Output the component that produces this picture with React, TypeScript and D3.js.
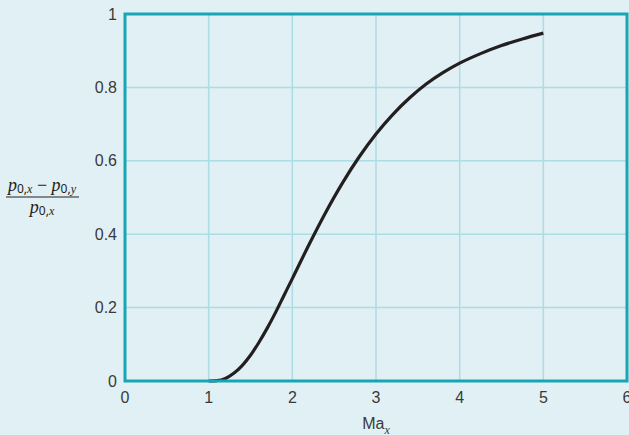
import React from "react";
import * as d3 from "d3";

const machNumbers = [1.0, 1.1, 1.2, 1.3, 1.4, 1.5, 1.6, 1.7, 1.8, 1.9, 2.0, 2.2, 2.4, 2.6, 2.8, 3.0, 3.2, 3.4, 3.6, 3.8, 4.0, 4.25, 4.5, 4.75, 5.0];
const pressureLoss = [0, 0.001, 0.007, 0.021, 0.042, 0.07, 0.105, 0.144, 0.187, 0.233, 0.279, 0.372, 0.46, 0.54, 0.611, 0.673, 0.726, 0.771, 0.809, 0.84, 0.866, 0.892, 0.914, 0.932, 0.948];
const xTicks = [0, 1, 2, 3, 4, 5, 6];
const yTicks = [0, 0.2, 0.4, 0.6, 0.8, 1];
const yTickLabels = ["0", "0.2", "0.4", "0.6", "0.8", "1"];

const W = 629;
const H = 435;
const M = { left: 125, right: 2, top: 14, bottom: 54 };

export default function App() {
  const x = d3.scaleLinear().domain([0, 6]).range([M.left, W - M.right]);
  const y = d3.scaleLinear().domain([0, 1]).range([H - M.bottom, M.top]);
  const line = d3
    .line<number>()
    .x((_, i) => x(machNumbers[i]))
    .y((d) => y(d))
    .curve(d3.curveMonotoneX);
  const pathD = line(pressureLoss) || "";
  const font = "'Liberation Sans', Arial, sans-serif";
  const tickColor = "#3a3a3a";
  const gridColor = "#acdce4";
  const frameColor = "#16a6b6";
  const serif = "'Liberation Serif', 'DejaVu Serif', serif";
  const subFont = "'Noto Sans', sans-serif";

  return (
    <svg
      width={W}
      height={H}
      style={{ position: "absolute", left: 0, top: 0, background: "#e1f0f4" }}
    >
      <rect x={0} y={0} width={W} height={H} fill="#e1f0f4" />
      {xTicks.slice(1, -1).map((t) => (
        <line key={"gx" + t} x1={x(t)} x2={x(t)} y1={y(0)} y2={y(1)} stroke={gridColor} strokeWidth={1.5} />
      ))}
      {yTicks.slice(1, -1).map((t) => (
        <line key={"gy" + t} x1={x(0)} x2={x(6)} y1={y(t)} y2={y(t)} stroke={gridColor} strokeWidth={1.5} />
      ))}
      <path d={pathD} fill="none" stroke="#231f20" strokeWidth={3.2} strokeLinecap="butt" />
      <rect
        x={x(0)}
        y={y(1)}
        width={x(6) - x(0)}
        height={y(0) - y(1)}
        fill="none"
        stroke={frameColor}
        strokeWidth={3}
      />
      {xTicks.map((t) => (
        <text key={"tx" + t} x={x(t)} y={y(0) + 22} textAnchor="middle" fontFamily={font} fontSize={16} fill={tickColor}>
          {t}
        </text>
      ))}
      {yTicks.map((t, i) => (
        <text key={"ty" + t} x={x(0) - 8} y={y(t) + 5.5} textAnchor="end" fontFamily={font} fontSize={16} fill={tickColor}>
          {yTickLabels[i]}
        </text>
      ))}
      <text x={x(3)} y={429} textAnchor="middle" fontFamily={font} fontSize={16} fill={tickColor}>
        Ma
        <tspan fontFamily={serif} fontStyle="italic" fontSize={12} dy={5}>x</tspan>
      </text>
      <g fill="#231f20">
        <text x={42} y={191} textAnchor="middle" fontFamily={serif} fontSize={18}>
          <tspan fontStyle="italic">p</tspan>
          <tspan fontSize={12} dy={2} fontFamily={subFont}>0,</tspan>
          <tspan fontSize={12} fontStyle="italic">x</tspan>
          <tspan dy={-2}> − </tspan>
          <tspan fontStyle="italic">p</tspan>
          <tspan fontSize={12} dy={2} fontFamily={subFont}>0,</tspan>
          <tspan fontSize={12} fontStyle="italic">y</tspan>
        </text>
        <line x1={6} x2={79} y1={197} y2={197} stroke="#231f20" strokeWidth={1} />
        <text x={42} y={213} textAnchor="middle" fontFamily={serif} fontSize={18}>
          <tspan fontStyle="italic">p</tspan>
          <tspan fontSize={12} dy={2} fontFamily={subFont}>0,</tspan>
          <tspan fontSize={12} fontStyle="italic">x</tspan>
        </text>
      </g>
    </svg>
  );
}
